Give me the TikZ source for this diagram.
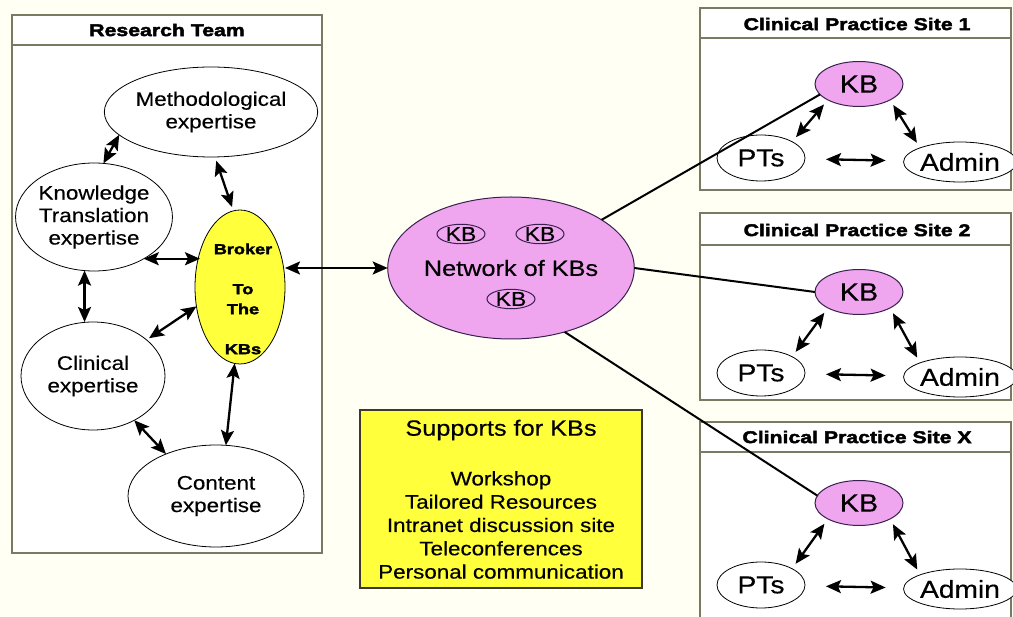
\documentclass[tikz,border=0pt]{standalone}
\usepackage{fontspec}
\setmainfont[FakeStretch=1.15,FakeBold=0.4]{Liberation Sans}
\newfontfamily\hdfont[FakeStretch=1.25,FakeBold=2.5]{Liberation Sans Bold}
\usetikzlibrary{arrows.meta,shapes.geometric}
\definecolor{bgcream}{HTML}{FFFFF4}
\definecolor{kbpink}{HTML}{EFA6EF}
\definecolor{brokeryellow}{HTML}{FFFF3C}
\definecolor{boxline}{HTML}{7A7A62}
\definecolor{kbedge}{HTML}{3A2050}

\begin{document}
\begin{tikzpicture}[x=1pt,y=-1pt,
  every node/.style={inner sep=0pt, outer sep=0pt},
  txt/.style={font=\fontsize{19.5}{22.5}\selectfont, align=center},
  expert/.style={ellipse, draw=black, line width=0.8pt, fill=white, txt},
  kbnode/.style={ellipse, draw=kbedge, line width=1pt, fill=kbpink,
    font=\fontsize{25}{26}\selectfont, minimum width=88, minimum height=45},
  staff/.style={ellipse, draw=black, line width=0.8pt, fill=white,
    font=\fontsize{24.5}{26}\selectfont},
  minikb/.style={ellipse, draw=kbedge, line width=1pt,
    font=\fontsize{20}{22}\selectfont, minimum width=48, minimum height=19},
  panel/.style={draw=boxline, line width=1.2pt},
  header/.style={font=\hdfont\fontsize{17}{19}\selectfont},
  tip/.style={Stealth[length=15pt,width=13pt,inset=3pt]},
  dbl/.style={line width=2.3pt, {Stealth[length=15pt,width=13pt,inset=3pt]}-{Stealth[length=15pt,width=13pt,inset=3pt]}},
  link/.style={line width=2pt}
]
\useasboundingbox (0,0) rectangle (1013,617);
\fill[bgcream] (0,0) rectangle (1013,617);
\clip (0,0) rectangle (1013,617);

% ---------- research team panel ----------
\draw[panel, fill=white] (12,15) rectangle (322,553);
\draw[panel] (12,45) -- (322,45);
\node[header] (rteam) at (167,30) {Research Team};

\node[expert, minimum width=186, minimum height=90] (meth) at (211,112) {Methodological\\expertise};
\node[expert, minimum width=144, minimum height=108] (kt) at (94,217) {Knowledge\\Translation\\expertise};
\node[expert, minimum width=144, minimum height=108] (clin) at (93,376) {Clinical\\expertise};
\node[expert, minimum width=176, minimum height=102] (cont) at (216,496) {Content\\expertise};
\node[ellipse, draw=black, line width=0.8pt, fill=brokeryellow,
      minimum width=90, minimum height=154] (broker) at (240,287) {};
\node[font=\hdfont\fontsize{14.5}{20}\selectfont, align=center] (brokertxt) at (243,299)
  {Broker\\[20pt]To\\The\\[20pt]KBs};

\draw[dbl] (meth.194) -- (kt.80);
\draw[dbl, shorten <=4pt, shorten >=4pt] (meth.-85) -- (broker.95);
\draw[dbl, shorten >=-5pt] (kt.-40) -- (kt.-40 -| broker.west);
\draw[dbl] (kt.-100) -- (kt.-100 |- clin.north);
\draw[dbl, shorten <=3pt] (clin.34) -- (broker.-156);
\draw[dbl] (clin.-47) -- (cont.140);
\draw[dbl] (broker.-94) -- (cont.79);

% ---------- network of knowledge brokers ----------
\node[ellipse, draw=kbedge, line width=1pt, fill=kbpink,
      minimum width=222, minimum height=142, txt, font=\fontsize{22}{24}\selectfont] (net) at (511,268) {Network of KBs};
\node[minikb] (mkb1) at (461,234) {KB};
\node[minikb] (mkb2) at (540,234) {KB};
\node[minikb] (mkb3) at (511,299) {KB};

\draw[dbl] (broker.east |- net.west) -- (net.west);

% ---------- supports ----------
\node[draw=black!75!olive, line width=1.2pt, fill=brokeryellow,
      minimum width=282, minimum height=178] (supports) at (501,499) {};
\node[txt, font=\fontsize{22}{24}\selectfont] (suptitle) at (501,430) {Supports for KBs};
\node[txt, font=\fontsize{19.5}{23.3}\selectfont] (suplist) at (501,525)
  {Workshop\\Tailored Resources\\Intranet discussion site\\Teleconferences\\Personal communication};

% ---------- clinical practice sites ----------
\draw[panel, fill=white] (700,8) rectangle (1011,190);
\draw[panel] (700,38) -- (1011,38);
\node[header] (site1) at (857,24) {Clinical Practice Site 1};

\draw[panel, fill=white] (700,213) rectangle (1011,400);
\draw[panel] (700,245) -- (1011,245);
\node[header] (site2) at (857,230) {Clinical Practice Site 2};

\draw[panel, fill=white] (700,422) rectangle (1011,640);
\draw[panel] (700,452) -- (1011,452);
\node[header] (sitex) at (857,437) {Clinical Practice Site X};

\foreach \s/\ky/\py/\ay in {1/84/158/162, 2/292/373/377, x/503/585/589}{
  \node[kbnode] (kb\s) at (859,\ky) {KB};
  \node[staff, minimum width=88, minimum height=46] (pts\s) at (761,\py) {PTs};
  \node[staff, minimum width=94, minimum height=40] (adm\s) at (960,\ay) {Admin};
  \draw[dbl, shorten <=6pt, shorten >=6pt] (kb\s.south west) -- (pts\s.north east);
  \draw[dbl, shorten <=6pt, shorten >=6pt] (kb\s.south east) -- (adm\s.north west);
  \draw[dbl, shorten <=21pt, shorten >=18pt] (pts\s) -- (adm\s);
}

% ---------- links from the network to each site ----------
\draw[link] (net.28) -- (kb1.195);
\draw[link] (net.east) -- (kb2.west);
\draw[link] (net.-50) -- (kbx.170);

\end{tikzpicture}
\end{document}
